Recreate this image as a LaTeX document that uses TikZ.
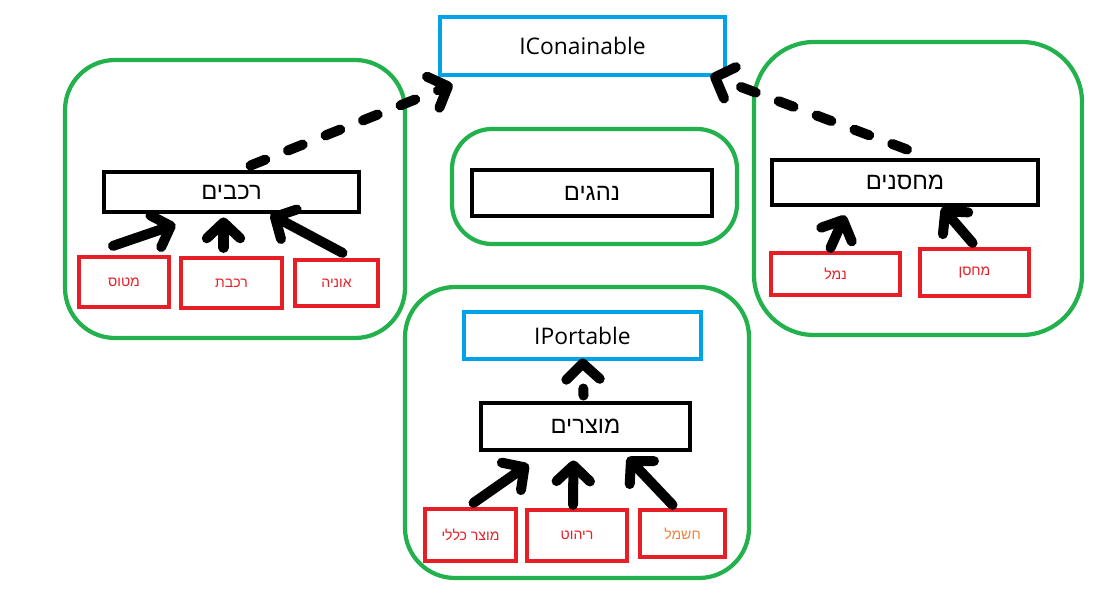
\documentclass[tikz,border=0pt]{standalone}
\usepackage{fontspec}
\setmainfont{Open Sans}
\newfontfamily\hebfont[Script=Hebrew]{Liberation Sans}
\TeXXeTstate=1
\usetikzlibrary{positioning, arrows.meta}
\usepackage{xcolor}
\definecolor{pgreen}{RGB}{34,177,76}
\definecolor{pblue}{RGB}{0,162,232}
\definecolor{pred}{RGB}{232,30,38}
\definecolor{porange}{RGB}{240,130,60}
\newcommand{\hb}[1]{{\hebfont\beginR #1\endR}}
\tikzset{
  grp/.style={draw=pgreen, line width=2.4pt},
  iface/.style={draw=pblue, line width=2.8pt, inner sep=0pt, font=\fontsize{13}{15}\selectfont},
  classbox/.style={draw=black, line width=2.8pt, inner sep=0pt, font=\fontsize{13.5}{15}\selectfont},
  subbox/.style={draw=pred, line width=2.4pt, inner sep=0pt, text=pred, font=\fontsize{8}{10}\selectfont},
  inh/.style={line width=5.7pt, line cap=round, line join=round, -{Straight Barb[length=9pt, width=19pt, line cap=round, line join=round]}},
  impl/.style={inh, dash pattern=on 9pt off 14pt}
}
\begin{document}
\begin{tikzpicture}[x=0.02cm, y=-0.02cm]
  \useasboundingbox (0,0) rectangle (1112,604);
  \draw[grp, rounded corners=1cm] (65,60) rectangle (405,338);
  \draw[grp, rounded corners=0.8cm] (452,129) rectangle (737,244);
  \draw[grp, rounded corners=1.2cm] (754,42) rectangle (1082,335);
  \draw[grp, rounded corners=1cm] (405,287) rectangle (749,578);

  \node[iface, minimum width=5.7cm, minimum height=1.16cm] (icont) at (582.5,46) {IConainable};
  \node[iface, minimum width=4.74cm, minimum height=0.94cm] (iport) at (582.5,335.5) {IPortable};

  \node[classbox, minimum width=5.1cm, minimum height=0.8cm] (cars) at (231.5,192) {\hb{רכבים}};
  \node[classbox, minimum width=4.8cm, minimum height=0.92cm] (drivers) at (592,193) {\hb{נהגים}};
  \node[classbox, minimum width=5.32cm, minimum height=0.9cm] (stores) at (905,182.5) {\hb{מחסנים}};
  \node[classbox, minimum width=4.18cm, minimum height=0.94cm] (goods) at (585.5,426.5) {\hb{מוצרים}};

  \node[subbox, minimum width=1.8cm, minimum height=1cm] (plane) at (124,282) {\hb{מטוס}};
  \node[subbox, minimum width=2.02cm, minimum height=1cm] (train) at (231.5,283) {\hb{רכבת}};
  \node[subbox, minimum width=1.66cm, minimum height=0.92cm] (ship) at (336.5,283) {\hb{אוניה}};
  \node[subbox, minimum width=2.58cm, minimum height=0.84cm] (port) at (835.5,274) {\hb{נמל}};
  \node[subbox, minimum width=2.18cm, minimum height=0.94cm] (store) at (974.5,272.5) {\hb{מחסן}};
  \node[subbox, minimum width=1.82cm, minimum height=1.04cm] (general) at (470.5,535) {\hb{מוצר כללי}};
  \node[subbox, minimum width=2cm, minimum height=1.02cm] (furniture) at (577,535.5) {\hb{ריהוט}};
  \node[subbox, minimum width=1.7cm, minimum height=0.94cm, text=porange] (electric) at (682.5,533.5) {\hb{חשמל}};

  \draw[impl] ([shift={(19,-4)}]cars.north) -- ([shift={(15,7)}]icont.south west);
  \draw[impl] ([shift={(2,-8)}]stores.north) -- ([shift={(-17,-2)}]icont.south east);
  \draw[impl, dash pattern=on 4pt off 12pt] ([shift={(-2,-5)}]goods.north) -- ([shift={(0,-3)}]iport.south);

  \draw[inh] ([shift={(-11,-9)}]plane.north) -- ([shift={(-56,10)}]cars.south);
  \draw[inh] ([shift={(-8,-8)}]train.north) -- ([shift={(-8,3)}]cars.south);
  \draw[inh] ([shift={(6,-5)}]ship.north) -- ([shift={(39,0)}]cars.south);
  \draw[inh] ([shift={(-5,-3)}]port.north) -- ([shift={(-60,8)}]stores.south);
  \draw[inh] ([shift={(-2,-4)}]store.north) -- ([shift={(37,0)}]stores.south);
  \draw[inh] ([shift={(3,-4)}]general.north) -- ([shift={(-57,12)}]goods.south);
  \draw[inh] ([shift={(-4,-3)}]furniture.north) -- ([shift={(-12,8)}]goods.south);
  \draw[inh] ([shift={(-10,-3)}]electric.north) -- ([shift={(42,5)}]goods.south);
\end{tikzpicture}
\end{document}
